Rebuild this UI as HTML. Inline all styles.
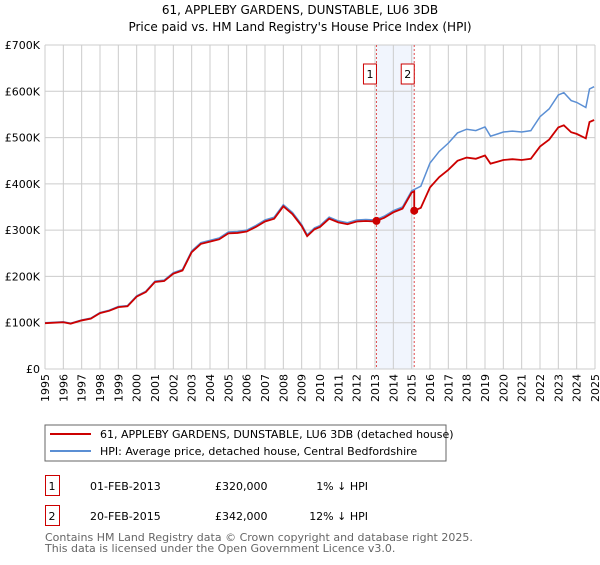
<!DOCTYPE html>
<html><head><meta charset="utf-8"><style>
body{margin:0;background:#fff;font-family:"Liberation Sans","DejaVu Sans",sans-serif;}
svg text{font-family:"DejaVu Sans","Liberation Sans",sans-serif;}
</style></head><body>
<svg id="chart" width="600" height="560" xmlns="http://www.w3.org/2000/svg">
<text x="300" y="14" font-size="12" text-anchor="middle" fill="#000">61, APPLEBY GARDENS, DUNSTABLE, LU6 3DB</text>
<text x="300" y="31" font-size="12" text-anchor="middle" fill="#000">Price paid vs. HM Land Registry's House Price Index (HPI)</text>
<g id="grid"></g>
<g id="marks"></g>
<g id="legend">
<rect x="45" y="425" width="401" height="36" fill="#fff" stroke="#666"/>
<line x1="50" y1="434" x2="91" y2="434" stroke="#cc0000" stroke-width="2"/>
<text x="100" y="438" font-size="11">61, APPLEBY GARDENS, DUNSTABLE, LU6 3DB (detached house)</text>
<line x1="50" y1="451" x2="91" y2="451" stroke="#5b8fd4" stroke-width="2"/>
<text x="100" y="455" font-size="11">HPI: Average price, detached house, Central Bedfordshire</text>
</g>
<g font-size="11">
<rect x="45.5" y="475.5" width="14" height="20" fill="#fff" stroke="#cc0000"/>
<text x="52" y="490" text-anchor="middle">1</text>
<text x="90" y="490">01-FEB-2013</text>
<text x="215" y="490">£320,000</text>
<text x="368" y="490" text-anchor="end">1% ↓ HPI</text>
<rect x="45.5" y="505.5" width="14" height="20" fill="#fff" stroke="#cc0000"/>
<text x="52" y="520" text-anchor="middle">2</text>
<text x="90" y="520">20-FEB-2015</text>
<text x="215" y="520">£342,000</text>
<text x="368" y="520" text-anchor="end">12% ↓ HPI</text>
</g>
<text x="45" y="541" font-size="11" fill="#666">Contains HM Land Registry data © Crown copyright and database right 2025.</text>
<text x="45" y="552" font-size="11" fill="#666">This data is licensed under the Open Government Licence v3.0.</text>
</svg>
<script>
const hpiYears=[1995,1996,1996.4,1997,1997.5,1998,1998.5,1999,1999.5,2000,2000.5,2001,2001.5,2002,2002.5,2003,2003.5,2004,2004.5,2005,2005.5,2006,2006.5,2007,2007.5,2008,2008.5,2009,2009.3,2009.7,2010,2010.5,2011,2011.5,2012,2012.5,2013,2013.5,2014,2014.5,2015,2015.5,2016,2016.5,2017,2017.5,2018,2018.5,2019,2019.3,2019.7,2020,2020.5,2021,2021.5,2022,2022.5,2023,2023.3,2023.7,2024,2024.5,2024.7,2024.95];
const hpiValues=[100,102,99,106,110,122,127,135,137,158,168,190,192,208,215,255,273,278,283,296,297,300,310,322,328,355,338,312,290,305,310,328,320,316,322,323,322,330,342,350,385,395,445,470,488,510,518,515,523,503,508,512,514,512,515,545,562,592,597,580,576,565,605,610];
const saleYears=[2013.08,2015.14];
const salePrices=[320,342];
const saleLabels=["1","2"];
const yTicks=[0,100,200,300,400,500,600,700];
const yTickLabels=["£0","£100K","£200K","£300K","£400K","£500K","£600K","£700K"];
const xTicks=[];for(let y=1995;y<=2025;y++)xTicks.push(y);

const X0=45,X1=595,Y0=369,Y1=45;
const xs=y=>X0+(y-1995)/30*(X1-X0);
const ys=v=>Y0-v/700*(Y0-Y1);
const NS="http://www.w3.org/2000/svg";
function mk(tag,attrs,parent){const e=document.createElementNS(NS,tag);for(const k in attrs)e.setAttribute(k,attrs[k]);parent.appendChild(e);return e;}
const grid=document.getElementById('grid'),marks=document.getElementById('marks');
const sh=mk('rect',{x:xs(saleYears[0]),y:Y1,width:xs(saleYears[1])-xs(saleYears[0]),height:Y0-Y1,fill:'#eef3fc',opacity:0.8},grid);


xTicks.forEach(y=>{
 const l=mk('line',{x1:xs(y),x2:xs(y),y1:Y1,y2:Y0,stroke:'#ccc','stroke-width':1},grid);
 
 
 const t=mk('text',{x:0,y:0,'font-size':11,'text-anchor':'end',transform:`translate(${xs(y)+4},${Y0+5}) rotate(-90)`},grid);
 t.textContent=y;
 
 
});
yTicks.forEach((v,i)=>{
 const l=mk('line',{x1:X0,x2:X1,y1:ys(v),y2:ys(v),stroke:'#ccc','stroke-width':1},grid);
 
 
 const t=mk('text',{x:X0-5,y:ys(v)+4,'font-size':11,'text-anchor':'end'},grid);
 t.textContent=yTickLabels[i];
 
 
});
saleYears.forEach((sy,i)=>{
 const l=mk('line',{x1:xs(sy),x2:xs(sy),y1:Y1,y2:Y0,stroke:'#e05050','stroke-width':1,'stroke-dasharray':'2,2'},marks);
 
 
 const r=mk('rect',{x:xs(sy)-13,y:64,width:13,height:20,fill:'#fff',stroke:'#cc0000'},marks);
 
 
 const t=mk('text',{x:xs(sy)-6.5,y:78,'font-size':11,'text-anchor':'middle'},marks);
 t.textContent=saleLabels[i];
 
 
});
function interp(y){for(let i=1;i<hpiYears.length;i++){if(y<=hpiYears[i]){const f=(y-hpiYears[i-1])/(hpiYears[i]-hpiYears[i-1]);return hpiValues[i-1]+f*(hpiValues[i]-hpiValues[i-1]);}}return hpiValues[hpiValues.length-1];}
const hp=mk('path',{d:hpiYears.map((y,i)=>(i?'L':'M')+xs(y)+','+ys(hpiValues[i])).join(''),fill:'none',stroke:'#5b8fd4','stroke-width':1.5},marks);


const r1=salePrices[0]/interp(saleYears[0]),r2=salePrices[1]/interp(saleYears[1]);
let d='';
hpiYears.forEach((y,i)=>{if(y<saleYears[1])d+=(d?'L':'M')+xs(y)+','+ys(hpiValues[i]*r1);});
d+='L'+xs(saleYears[1])+','+ys(interp(saleYears[1])*r1);
d+='L'+xs(saleYears[1])+','+ys(salePrices[1]);
hpiYears.forEach((y,i)=>{if(y>saleYears[1])d+='L'+xs(y)+','+ys(hpiValues[i]*r2);});
const pp=mk('path',{d:d,fill:'none',stroke:'#cc0000','stroke-width':1.8},marks);


saleYears.forEach((sy,i)=>{
 const c=mk('circle',{cx:xs(sy),cy:ys(salePrices[i]),r:4,fill:'#cc0000'},marks);
 
 
});
</script>
</body></html>
